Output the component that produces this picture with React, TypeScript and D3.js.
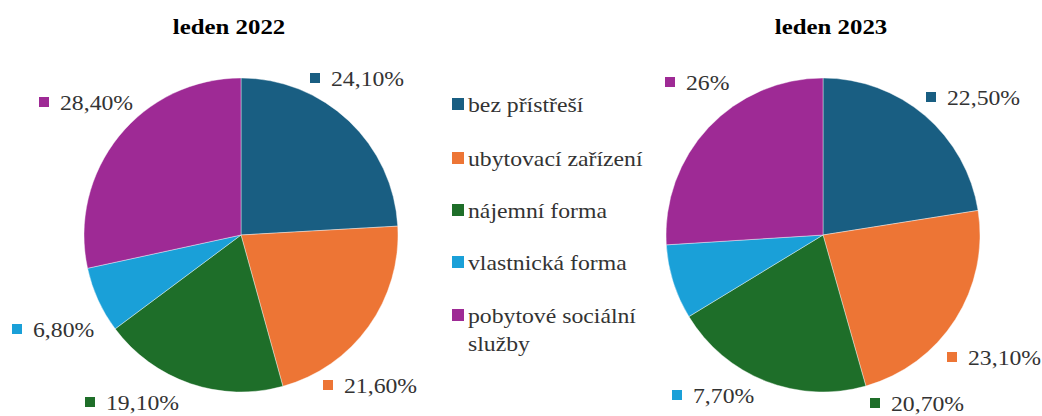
import React from "react";
import * as d3 from "d3";

const categories = ["bez přístřeší", "ubytovací zařízení", "nájemní forma", "vlastnická forma", "pobytové sociální služby"];
const legendLines = [["bez přístřeší"], ["ubytovací zařízení"], ["nájemní forma"], ["vlastnická forma"], ["pobytové sociální", "služby"]];
const colors = ["#195e82", "#ed7535", "#1e6e29", "#1aa0d8", "#9e2a95"];
const values2022 = [24.1, 21.6, 19.1, 6.8, 28.4];
const values2023 = [22.5, 23.1, 20.7, 7.7, 26.0];
const labels2022 = ["24,10%", "21,60%", "19,10%", "6,80%", "28,40%"];
const labels2023 = ["22,50%", "23,10%", "20,70%", "7,70%", "26%"];
const titles = ["leden 2022", "leden 2023"];

// label layout (square left x, text baseline) relative to pie centre
const labelOffsets2022 = [[69, -149], [82, 158], [-156, 175], [-229, 102], [-202, -125]];
const labelOffsets2023 = [[103, -130], [124, 130], [47, 176], [-151, 168], [-158, -145]];

const W = 1042, H = 416;
const R = 157;
const SX = 1.13;
const FONT = "Liberation Serif";

function Pie({ cx, cy, values, labels, offsets, title, titleX }: any) {
  const pie = d3.pie<number>().sort(null).value((d) => d)(values);
  const arc = d3.arc<d3.PieArcDatum<number>>().innerRadius(0).outerRadius(R);
  return (
    <g>
      <text transform={`translate(${titleX},34) scale(${SX},1)`} textAnchor="middle" fontFamily={FONT} fontWeight="bold" fontSize={22} fill="#000">{title}</text>
      <g transform={`translate(${cx},${cy})`}>
        {pie.map((p, i) => (
          <path key={i} d={arc(p) || ""} fill={colors[i]} stroke="#fff" strokeWidth={0.4} />
        ))}
        {labels.map((l: string, i: number) => {
          const [dx, dy] = offsets[i];
          return (
            <g key={i}>
              <rect x={dx} y={dy - 13} width={10} height={10} fill={colors[i]} />
              <text transform={`translate(${dx + 21},${dy}) scale(${SX},1)`} fontFamily={FONT} fontSize={21} fill="#333">{l}</text>
            </g>
          );
        })}
      </g>
    </g>
  );
}

export default function App() {
  const legendBaselines = [112, 166, 218, 270, 323];
  return (
    <svg width={W} height={H} style={{ position: "absolute", left: 0, top: 0, display: "block", background: "#fff" }}>
      <rect width={W} height={H} fill="#fff" />
      <Pie cx={241} cy={235} values={values2022} labels={labels2022} offsets={labelOffsets2022} title={titles[0]} titleX={229} />
      <Pie cx={823} cy={235} values={values2023} labels={labels2023} offsets={labelOffsets2023} title={titles[1]} titleX={831} />
      <g>
        {categories.map((c, i) => (
          <g key={c}>
            <rect x={452} y={legendBaselines[i] - 14} width={12} height={12} fill={colors[i]} />
            {legendLines[i].map((line, j) => (
              <text key={j} transform={`translate(468,${legendBaselines[i] + j * 28}) scale(${SX},1)`} fontFamily={FONT} fontSize={21} fill="#333">{line}</text>
            ))}
          </g>
        ))}
      </g>
    </svg>
  );
}
